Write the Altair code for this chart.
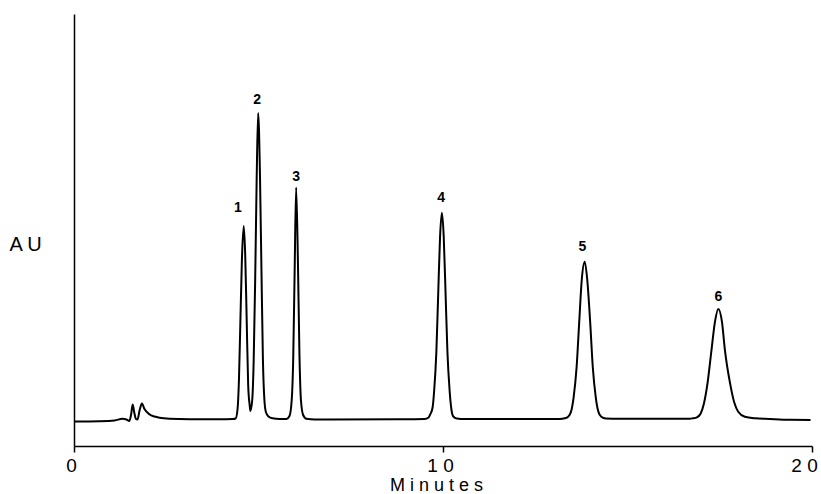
import altair as alt
import pandas as pd

# Chromatogram trace (time in minutes, signal in AU)
time_min = [
    0.01, 0.69, 1.10, 1.31, 1.42, 1.50, 1.55, 1.59, 1.63, 1.68, 1.72, 1.78, 1.84, 1.91,
    2.05, 2.18, 2.32, 2.59, 3.13, 3.94, 4.30,
    4.38, 4.43, 4.47, 4.51, 4.55, 4.60, 4.64, 4.68, 4.72, 4.76, 4.78,
    4.83, 4.87, 4.91, 4.95, 4.99, 5.04, 5.08, 5.12, 5.16, 5.20, 5.27, 5.38, 5.57, 5.76,
    5.84, 5.90, 5.94, 5.98, 6.02, 6.07, 6.11, 6.15, 6.21, 6.30, 6.52,
    6.93, 8.82, 9.50,
    9.61, 9.66, 9.72, 9.76, 9.82, 9.87, 9.92, 9.97, 10.02, 10.07, 10.12, 10.18, 10.23,
    10.28, 10.37, 10.59,
    10.99, 13.16,
    13.30, 13.39, 13.47, 13.54, 13.62, 13.69, 13.76, 13.84, 13.91, 13.99, 14.06, 14.14,
    14.21, 14.29, 14.41,
    14.79, 16.69,
    16.77, 16.88, 16.98, 17.07, 17.17, 17.27, 17.37, 17.46, 17.56, 17.64, 17.78, 17.90,
    18.00, 18.18, 18.46, 18.85, 19.40, 19.96,
]
signal_au = [
    5.67, 5.74, 5.90, 6.30, 6.13, 5.79, 7.41, 9.61, 7.87, 6.25, 6.13, 8.33, 9.84, 8.56,
    7.29, 6.83, 6.55, 6.32, 6.20, 6.18, 6.25,
    6.37, 8.33, 15.28, 29.17, 43.06, 50.93, 44.21, 29.17, 14.12, 9.49, 8.10,
    10.65, 19.91, 38.43, 61.57, 77.08, 62.73, 40.74, 19.91, 10.65, 7.87, 6.83, 6.41, 6.25, 6.25,
    6.94, 10.65, 19.91, 40.74, 59.84, 41.90, 21.06, 10.65, 7.18, 6.30, 6.13,
    6.13, 6.18, 6.25,
    6.60, 7.41, 9.03, 12.73, 21.76, 35.19, 48.38, 54.01, 48.38, 35.19, 21.76, 12.73, 8.33,
    6.83, 6.37, 6.25,
    6.25, 6.25,
    6.41, 6.76, 7.96, 11.27, 18.17, 28.43, 38.43, 42.66, 38.43, 28.43, 18.17, 11.27,
    7.96, 6.76, 6.37,
    6.32, 6.32,
    6.41, 6.64, 7.48, 9.79, 14.61, 21.76, 28.73, 31.71, 28.73, 22.22, 14.51, 9.88,
    7.94, 6.78, 6.41, 6.25, 6.06, 6.02,
]

# Peak numbers and where they sit
peak_ids = ["1", "2", "3", "4", "5", "6"]
peak_label_time = [4.44, 4.96, 6.02, 9.95, 13.78, 17.46]
peak_label_au = [55.0, 80.1, 62.3, 57.3, 46.1, 34.4]

# Axis ticks and labels
x_ticks = [0, 10, 20]
x_tick_labels = ["0", "1 0", "2 0"]
x_title = "M i n u t e s"
y_title = "A U"

FONT = "Liberation Sans, Arial, sans-serif"

trace = pd.DataFrame({"t": time_min, "au": signal_au, "i": list(range(len(time_min)))})
peaks = pd.DataFrame({"t": peak_label_time, "au": peak_label_au, "id": peak_ids})

label_expr = " : ".join(
    f"datum.value == {v} ? '{s}'" for v, s in zip(x_ticks[:-1], x_tick_labels[:-1])
) + f" : '{x_tick_labels[-1]}'"

x_enc = alt.X(
    "t:Q",
    scale=alt.Scale(domain=[0, 20], nice=False, zero=False),
    axis=alt.Axis(
        values=x_ticks,
        labelExpr=label_expr,
        title=x_title,
        grid=False,
        domainColor="black",
        domainWidth=1.5,
        tickColor="black",
        tickWidth=1.5,
        tickSize=6,
        labelFont=FONT,
        labelFontSize=19,
        labelColor="black",
        labelBaseline="middle",
        labelPadding=13,
        labelOffset={"condition": {"test": "datum.value >= 20", "value": -8}, "value": -3},
        labelFlush=False,
        labelOverlap=False,
        titleFont=FONT,
        titleFontSize=18,
        titleFontWeight="normal",
        titleColor="black",
        titleBaseline="middle",
        titleX=362,
        titleY=39,
    ),
)

y_enc = alt.Y(
    "au:Q",
    scale=alt.Scale(domain=[0, 100], nice=False, zero=False),
    axis=alt.Axis(
        labels=False,
        ticks=False,
        grid=False,
        domainColor="black",
        domainWidth=1.5,
        title=y_title,
        titleAngle=0,
        titleAlign="center",
        titleBaseline="middle",
        titleX=-49,
        titleY=230,
        titleFont=FONT,
        titleFontSize=20,
        titleFontWeight="normal",
        titleColor="black",
    ),
)

line = alt.Chart(trace).mark_line(
    color="black", strokeWidth=2, interpolate="monotone"
).encode(x=x_enc, y=y_enc, order="i:Q")

labels = alt.Chart(peaks).mark_text(
    font=FONT, fontSize=14, fontWeight="bold", color="black", baseline="middle", align="center"
).encode(x="t:Q", y="au:Q", text="id:N")

chart = (
    alt.layer(line, labels)
    .properties(
        width=738,
        height=432,
        autosize=alt.AutoSizeParams(type="none"),
        padding={"left": 74, "top": 14, "right": 9, "bottom": 48},
        background="white",
    )
    .configure_view(stroke=None)
)

chart.save("out.html", embed_options={"renderer": "svg", "actions": False})
